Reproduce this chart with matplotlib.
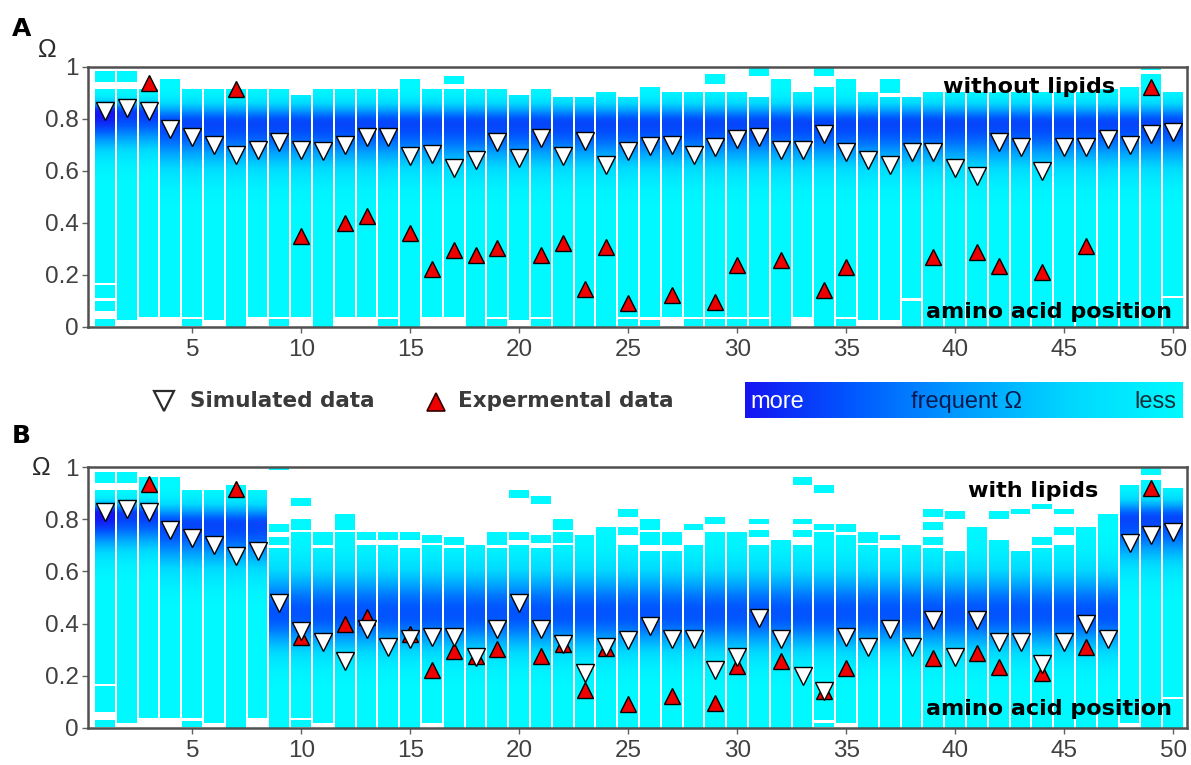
import numpy as np
import matplotlib
matplotlib.use("Agg")
import matplotlib.pyplot as plt
from matplotlib.colors import LinearSegmentedColormap
from matplotlib import font_manager

plt.rcParams['font.family'] = ['Liberation Sans', 'DejaVu Sans']

# ---------------- data ----------------
positions = list(range(1, 51))
xticks = [5, 10, 15, 20, 25, 30, 35, 40, 45, 50]
yticks = [0, 0.2, 0.4, 0.6, 0.8, 1.0]
ytick_labels = ['0', '0.2', '0.4', '0.6', '0.8', '1']

sim_A = [0.83, 0.84, 0.83, 0.76, 0.73, 0.70, 0.66, 0.68, 0.71, 0.68,
         0.675, 0.70, 0.73, 0.73, 0.656, 0.665, 0.61, 0.64, 0.71, 0.65,
         0.726, 0.656, 0.716, 0.62, 0.675, 0.695, 0.70, 0.66, 0.69, 0.72,
         0.73, 0.68, 0.68, 0.74, 0.67, 0.64, 0.62, 0.67, 0.67, 0.61,
         0.58, 0.71, 0.69, 0.60, 0.69, 0.69, 0.72, 0.70, 0.74, 0.75]

sim_B = [0.83, 0.84, 0.83, 0.76, 0.73, 0.70, 0.66, 0.68, 0.477, 0.37,
         0.33, 0.255, 0.38, 0.31, 0.34, 0.35, 0.35, 0.27, 0.38, 0.48,
         0.38, 0.32, 0.21, 0.31, 0.335, 0.39, 0.34, 0.34, 0.22, 0.27,
         0.42, 0.34, 0.20, 0.14, 0.35, 0.31, 0.38, 0.31, 0.415, 0.27,
         0.415, 0.33, 0.33, 0.245, 0.33, 0.40, 0.34, 0.71, 0.74, 0.75]

exp_pos = [3, 7, 10, 12, 13, 15, 16, 17, 18, 19, 21, 22, 23, 24, 25,
           27, 29, 30, 32, 34, 35, 39, 41, 42, 44, 46, 49]
exp_val = [0.936, 0.915, 0.35, 0.40, 0.427, 0.36, 0.223, 0.296, 0.274, 0.303,
           0.274, 0.32, 0.146, 0.305, 0.09, 0.122, 0.095, 0.236, 0.255, 0.14,
           0.228, 0.268, 0.287, 0.235, 0.21, 0.31, 0.92]

# Omega distribution columns: main bar (bottom, top) and extra separate segments
A_top = [0.91, 0.91, 0.91, 0.95, 0.91, 0.91, 0.91, 0.91, 0.91, 0.89,
         0.91, 0.91, 0.91, 0.91, 0.95, 0.91, 0.91, 0.91, 0.91, 0.89,
         0.91, 0.88, 0.88, 0.90, 0.88, 0.92, 0.90, 0.90, 0.90, 0.90,
         0.88, 0.95, 0.90, 0.92, 0.95, 0.90, 0.88, 0.88, 0.90, 0.90,
         0.90, 0.90, 0.90, 0.90, 0.90, 0.90, 0.91, 0.92, 0.97, 0.90]
A_bot = [0.17, 0.025, 0.04, 0.04, 0.04, 0.025, 0.0, 0.04, 0.04, 0.04,
         0.0, 0.04, 0.04, 0.04, 0.0, 0.04, 0.04, 0.0, 0.04, 0.025,
         0.04, 0.0, 0.0, 0.0, 0.04, 0.04, 0.04, 0.04, 0.04, 0.04,
         0.04, 0.0, 0.04, 0.0, 0.04, 0.025, 0.025, 0.11, 0.0, 0.0,
         0.0, 0.0, 0.0, 0.0, 0.0, 0.0, 0.0, 0.0, 0.0, 0.12]
A_extra = {1: [(0.94, 0.98), (0.11, 0.16), (0.06, 0.10), (0.005, 0.03)],
           2: [(0.94, 0.98)], 5: [(0.005, 0.03)], 9: [(0.005, 0.03)],
           14: [(0.005, 0.03)], 17: [(0.93, 0.96)], 19: [(0.005, 0.03)],
           21: [(0.005, 0.03)], 25: [(0.005, 0.03)], 26: [(0.005, 0.025)],
           28: [(0.005, 0.03)], 29: [(0.93, 0.97), (0.005, 0.03)],
           30: [(0.005, 0.03)], 31: [(0.96, 1.0), (0.005, 0.03)],
           34: [(0.96, 1.0)], 35: [(0.005, 0.03)], 37: [(0.895, 0.95)],
           38: [(0.0, 0.10)], 49: [(0.985, 1.0)], 50: [(0.0, 0.11)]}

B_top = [0.91, 0.91, 0.96, 0.96, 0.91, 0.91, 0.93, 0.91, 0.69, 0.75,
         0.69, 0.75, 0.70, 0.70, 0.69, 0.70, 0.69, 0.70, 0.69, 0.70,
         0.69, 0.70, 0.74, 0.77, 0.70, 0.68, 0.68, 0.70, 0.75, 0.75,
         0.70, 0.72, 0.70, 0.75, 0.74, 0.70, 0.69, 0.70, 0.69, 0.68,
         0.77, 0.72, 0.68, 0.69, 0.70, 0.77, 0.82, 0.93, 0.95, 0.92]
B_bot = [0.17, 0.02, 0.04, 0.04, 0.04, 0.02, 0.0, 0.04, 0.0, 0.04,
         0.02, 0.0, 0.0, 0.0, 0.0, 0.02, 0.0, 0.0, 0.0, 0.0,
         0.0, 0.0, 0.0, 0.0, 0.0, 0.0, 0.0, 0.0, 0.0, 0.0,
         0.0, 0.0, 0.0, 0.03, 0.02, 0.0, 0.0, 0.0, 0.0, 0.0,
         0.0, 0.0, 0.0, 0.0, 0.0, 0.0, 0.0, 0.02, 0.0, 0.12]
B_extra = {1: [(0.94, 0.98), (0.06, 0.16), (0.005, 0.03)], 2: [(0.94, 0.98)],
           5: [(0.005, 0.025)],
           9: [(0.70, 0.73), (0.75, 0.78), (0.99, 1.0)],
           10: [(0.76, 0.80), (0.85, 0.88), (0.005, 0.03)], 11: [(0.70, 0.75)],
           12: [(0.76, 0.82)], 13: [(0.72, 0.75)], 14: [(0.72, 0.75)],
           15: [(0.72, 0.75)], 16: [(0.71, 0.74)], 17: [(0.70, 0.73)],
           19: [(0.70, 0.75)], 20: [(0.72, 0.75), (0.88, 0.91)],
           21: [(0.71, 0.74), (0.86, 0.89)], 22: [(0.71, 0.75), (0.76, 0.80)],
           25: [(0.74, 0.77), (0.81, 0.84)], 26: [(0.70, 0.75), (0.76, 0.80)],
           27: [(0.70, 0.75)], 28: [(0.76, 0.78)], 29: [(0.78, 0.81)],
           31: [(0.73, 0.76), (0.78, 0.80)],
           33: [(0.73, 0.76), (0.78, 0.80), (0.93, 0.96)],
           34: [(0.76, 0.78), (0.90, 0.93), (0.005, 0.02)],
           35: [(0.75, 0.78)], 36: [(0.71, 0.75)], 37: [(0.72, 0.74)],
           39: [(0.70, 0.73), (0.76, 0.79), (0.81, 0.84)], 40: [(0.80, 0.83)],
           42: [(0.80, 0.83)], 43: [(0.82, 0.84)], 44: [(0.70, 0.73), (0.84, 0.86)],
           45: [(0.74, 0.77), (0.82, 0.84)], 49: [(0.97, 1.0)], 50: [(0.0, 0.11)]}

# most frequent Omega band per column (shading)
A_band_center = [0.82, 0.82, 0.82] + [0.78] * 47
A_band_strength = [1.0, 0.85, 0.85] + [0.82] * 47
A_band_up = [0.03, 0.03, 0.03] + [0.05] * 47
A_band_down = [0.09, 0.09, 0.09] + [0.11] * 47
B_band_center = [0.82, 0.82, 0.82] + [0.78] * 5 + [0.44] * 39 + [0.80] * 3
B_band_strength = [1.0, 0.85, 0.85] + [0.82] * 5 + [0.77] * 39 + [0.82] * 3
B_band_up = [0.03, 0.03, 0.03] + [0.05] * 5 + [0.11] * 39 + [0.05] * 3
B_band_down = [0.09, 0.09, 0.09] + [0.11] * 5 + [0.10] * 39 + [0.11] * 3

# ---------------- style ----------------
cmap = LinearSegmentedColormap.from_list(
    'freq', [(0.0, (0.0, 0.98, 1.0)), (0.25, (0.0, 0.85, 1.0)),
             (0.5, (0.0, 0.62, 1.0)), (0.75, (0.0, 0.35, 1.0)),
             (1.0, (0.08, 0.08, 0.95))])

names = {f.name for f in font_manager.fontManager.ttflist}
tick_font = 'Liberation Sans Narrow' if 'Liberation Sans Narrow' in names else 'Liberation Sans'
tick_size = 19 if tick_font.endswith('Narrow') else 17.5
bold_font = 'DejaVu Sans'

W, H = 1191, 765
fig = plt.figure(figsize=(W / 100, H / 100), dpi=100)
fig.patch.set_facecolor('white')

L = 88 / W
AW = (1187 - 88) / W
axA = fig.add_axes([L, 1 - 326.7 / H, AW, 260 / H])
axB = fig.add_axes([L, 1 - 727.7 / H, AW, 260.4 / H])


def draw_panel(ax, top, bot, extra, center, strength, up, down, sim,
               cond_label, cond_y, pos_y):
    S, NY = 20, 1000
    n = len(positions)
    img = np.ones((NY, n * S, 3))
    ys = (np.arange(NY) + 0.5) / NY
    for i in range(n):
        c = center[i]
        inten = strength[i] * np.where(ys > c,
                                       np.exp(-0.5 * ((ys - c) / up[i]) ** 2),
                                       np.exp(-0.5 * ((ys - c) / down[i]) ** 2))
        cols = cmap(inten)[:, :3]
        segs = [(bot[i], top[i])] + extra.get(positions[i], [])
        for lo, hi in segs:
            m = (ys >= lo) & (ys <= hi)
            img[m, i * S + 1:i * S + S - 1, :] = cols[m][:, None, :]
    ax.imshow(img, extent=(positions[0] - 0.5, positions[-1] + 0.5, 0, 1),
              origin='lower', aspect='auto', interpolation='nearest', zorder=1)
    ax.plot(exp_pos, exp_val, linestyle='none', marker='^', ms=12,
            mfc='#ee0000', mec='black', mew=1.0, zorder=3)
    ax.plot(positions, sim, linestyle='none', marker='v', ms=12.5,
            mfc='white', mec='black', mew=1.0, zorder=4)
    ax.set_xlim(0.216, 50.63)
    ax.set_ylim(0, 1)
    ax.set_xticks(xticks)
    ax.set_yticks(yticks)
    ax.set_yticklabels(ytick_labels)
    for sp in ax.spines.values():
        sp.set_color('#505050')
        sp.set_linewidth(1.8)
        sp.set_zorder(6)
    ax.tick_params(axis='both', colors='#606060', labelcolor='#404040',
                   length=4.5, width=1.0, labelsize=tick_size)
    ax.tick_params(axis='y', pad=2)
    ax.tick_params(axis='x', pad=4)
    for lab in ax.get_xticklabels() + ax.get_yticklabels():
        lab.set_fontfamily(tick_font)
    ax.text(cond_label[1], cond_y, cond_label[0], ha='center', va='baseline',
            fontsize=16, fontweight='bold', family=bold_font, color='black', zorder=5)
    ax.text(44.28, pos_y, 'amino acid position', ha='center', va='baseline',
            fontsize=16, fontweight='bold', family=bold_font, color='black', zorder=5)


draw_panel(axA, A_top, A_bot, A_extra, A_band_center, A_band_strength,
           A_band_up, A_band_down, sim_A, ('without lipids', 43.37), 0.898, 0.035)
draw_panel(axB, B_top, B_bot, B_extra, B_band_center, B_band_strength,
           B_band_up, B_band_down, sim_B, ('with lipids', 43.59), 0.887, 0.049)

# colour bar "more ... frequent Omega ... less"
axC = fig.add_axes([745 / W, 1 - 418 / H, 438 / W, 36 / H])
grad = np.linspace(1, 0, 512)[None, :]
axC.imshow(grad, cmap=cmap, vmin=0, vmax=1, aspect='auto',
           extent=(0, 1, 0, 1), interpolation='bilinear')
axC.set_xlim(0, 1)
axC.set_ylim(0, 1)
axC.axis('off')
axC.text(0.012, 0.45, 'more', ha='left', va='center', fontsize=17,
         color='white', family='Liberation Sans')
axC.text(0.505, 0.45, 'frequent \u03a9', ha='center', va='center', fontsize=17,
         color='#0a1a50', family='Liberation Sans')
axC.text(0.985, 0.45, 'less', ha='right', va='center', fontsize=17,
         color='#10303a', family='Liberation Sans')

# legend and panel labels (figure overlay in pixel units)
ov = fig.add_axes([0, 0, 1, 1])
ov.set_xlim(0, W)
ov.set_ylim(H, 0)
ov.axis('off')
ov.patch.set_visible(False)
ov.plot([164], [401], linestyle='none', marker='v', ms=14, mfc='white',
        mec='#2a2a2a', mew=1.6)
ov.text(190, 401, 'Simulated data', ha='left', va='center', fontsize=15.5,
        fontweight='bold', family=bold_font, color='#3a3a3a')
ov.plot([436], [402], linestyle='none', marker='^', ms=13, mfc='#ee0000',
        mec='#300000', mew=1.2)
ov.text(458, 401, 'Expermental data', ha='left', va='center', fontsize=15.5,
        fontweight='bold', family=bold_font, color='#3a3a3a')

ov.text(12, 29, 'A', ha='left', va='center', fontsize=18, fontweight='bold',
        family=bold_font, color='black')
ov.text(12, 436, 'B', ha='left', va='center', fontsize=18, fontweight='bold',
        family=bold_font, color='black')
ov.text(47, 50, '\u03a9', ha='center', va='center', fontsize=18,
        family='Liberation Sans', color='#2a2a2a')
ov.text(41, 468, '\u03a9', ha='center', va='center', fontsize=18,
        family='Liberation Sans', color='#2a2a2a')

fig.savefig('out.png', dpi=100, facecolor='white')
